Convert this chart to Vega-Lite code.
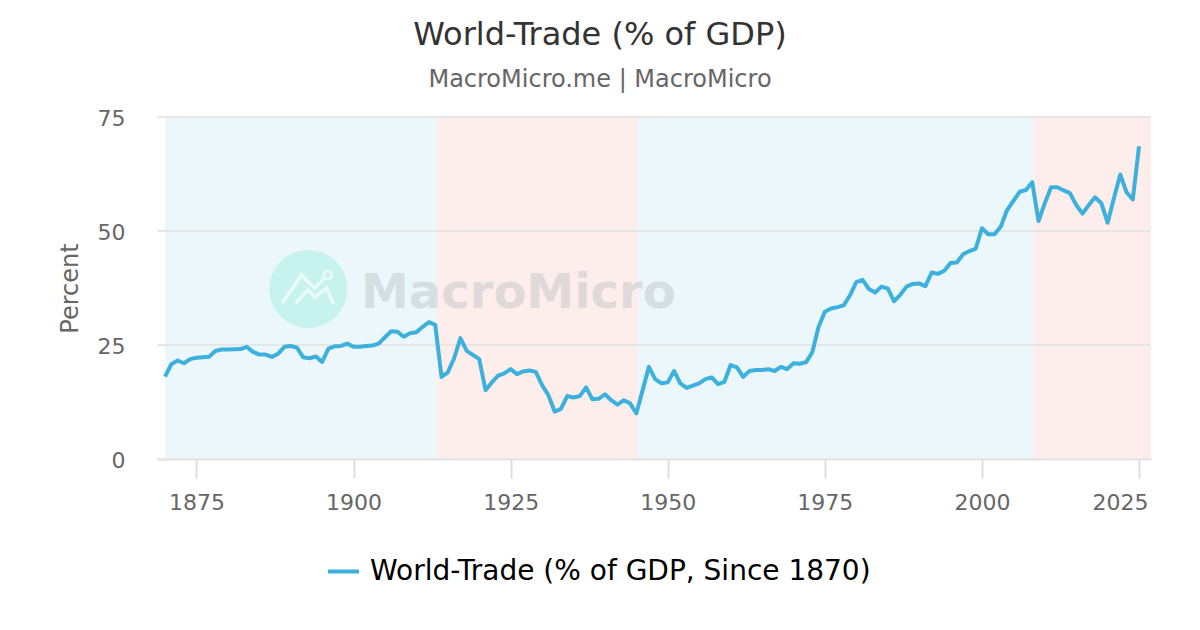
{
  "$schema": "https://vega.github.io/schema/vega-lite/v6.json",
  "description": "World trade as a share of GDP since 1870, with shaded eras.",
  "width": 994,
  "height": 342,
  "autosize": {"type": "none"},
  "padding": {"left": 157, "top": 117, "right": 49, "bottom": 171},
  "background": "#ffffff",
  "title": {
    "text": "World-Trade (% of GDP)",
    "subtitle": "MacroMicro.me | MacroMicro",
    "anchor": "middle",
    "dx": -54,
    "offset": 14,
    "font": "DejaVu Sans",
    "fontSize": 32,
    "fontWeight": "normal",
    "color": "#333333",
    "subtitleFont": "DejaVu Sans",
    "subtitleFontSize": 24,
    "subtitleColor": "#666666",
    "subtitlePadding": 16
  },
  "config": {
    "view": {"stroke": null},
    "font": "DejaVu Sans"
  },
  "datasets": {
    "eras": [
      {"start": 1870, "end": 1913.2, "era": "expansion"},
      {"start": 1913.2, "end": 1945.3, "era": "contraction"},
      {"start": 1945.3, "end": 2008.2, "era": "expansion"},
      {"start": 2008.2, "end": 2026.9, "era": "contraction"}
    ],
    "grid": [{"level": 0}, {"level": 25}, {"level": 50}, {"level": 75}],
    "logo_disc": [{"year": 1892.8, "value": 37.3}],
    "logo_ring": [{"year": 1895.9, "value": 40.35}],
    "logo_lines": [
      {"path": "a", "year": 1888.7, "value": 34.2},
      {"path": "a", "year": 1891.7, "value": 40.35},
      {"path": "a", "year": 1893.8, "value": 37.5},
      {"path": "a", "year": 1895.4, "value": 39.7},
      {"path": "b", "year": 1890.8, "value": 34.2},
      {"path": "b", "year": 1892.7, "value": 37.06},
      {"path": "b", "year": 1893.8, "value": 35.5},
      {"path": "b", "year": 1895.7, "value": 37.5},
      {"path": "b", "year": 1896.8, "value": 34.0}
    ],
    "wordmark": [{"year": 1901.2, "value": 33.1, "label": "MacroMicro"}],
    "trade": [
      {"year": 1870, "value": 18.05}, {"year": 1871, "value": 20.8}, {"year": 1872, "value": 21.6},
      {"year": 1873, "value": 21.0}, {"year": 1874, "value": 21.9}, {"year": 1875, "value": 22.2},
      {"year": 1876, "value": 22.3}, {"year": 1877, "value": 22.4}, {"year": 1878, "value": 23.7},
      {"year": 1879, "value": 24.0}, {"year": 1880, "value": 24.0}, {"year": 1881, "value": 24.05},
      {"year": 1882, "value": 24.1}, {"year": 1883, "value": 24.6}, {"year": 1884, "value": 23.5},
      {"year": 1885, "value": 22.9}, {"year": 1886, "value": 22.9}, {"year": 1887, "value": 22.4},
      {"year": 1888, "value": 23.1}, {"year": 1889, "value": 24.6}, {"year": 1890, "value": 24.8},
      {"year": 1891, "value": 24.4}, {"year": 1892, "value": 22.3}, {"year": 1893, "value": 22.1},
      {"year": 1894, "value": 22.5}, {"year": 1895, "value": 21.3}, {"year": 1896, "value": 24.2},
      {"year": 1897, "value": 24.7}, {"year": 1898, "value": 24.8}, {"year": 1899, "value": 25.3},
      {"year": 1900, "value": 24.6}, {"year": 1901, "value": 24.6}, {"year": 1902, "value": 24.8},
      {"year": 1903, "value": 24.9}, {"year": 1904, "value": 25.3}, {"year": 1905, "value": 26.7},
      {"year": 1906, "value": 28.0}, {"year": 1907, "value": 27.9}, {"year": 1908, "value": 26.8},
      {"year": 1909, "value": 27.6}, {"year": 1910, "value": 27.8}, {"year": 1911, "value": 29.0},
      {"year": 1912, "value": 30.0}, {"year": 1913, "value": 29.4}, {"year": 1914, "value": 18.0},
      {"year": 1915, "value": 19.0}, {"year": 1916, "value": 22.1}, {"year": 1917, "value": 26.5},
      {"year": 1918, "value": 23.7}, {"year": 1919, "value": 22.8}, {"year": 1920, "value": 21.9},
      {"year": 1921, "value": 15.1}, {"year": 1922, "value": 16.8}, {"year": 1923, "value": 18.3},
      {"year": 1924, "value": 18.8}, {"year": 1925, "value": 19.7}, {"year": 1926, "value": 18.6},
      {"year": 1927, "value": 19.2}, {"year": 1928, "value": 19.4}, {"year": 1929, "value": 19.1},
      {"year": 1930, "value": 16.2}, {"year": 1931, "value": 14.0}, {"year": 1932, "value": 10.4},
      {"year": 1933, "value": 11.0}, {"year": 1934, "value": 13.8}, {"year": 1935, "value": 13.5},
      {"year": 1936, "value": 13.8}, {"year": 1937, "value": 15.7}, {"year": 1938, "value": 13.1},
      {"year": 1939, "value": 13.2}, {"year": 1940, "value": 14.2}, {"year": 1941, "value": 12.9},
      {"year": 1942, "value": 11.9}, {"year": 1943, "value": 12.9}, {"year": 1944, "value": 12.2},
      {"year": 1945, "value": 10.0}, {"year": 1946, "value": 15.1}, {"year": 1947, "value": 20.2},
      {"year": 1948, "value": 17.5}, {"year": 1949, "value": 16.6}, {"year": 1950, "value": 16.8},
      {"year": 1951, "value": 19.3}, {"year": 1952, "value": 16.6}, {"year": 1953, "value": 15.6},
      {"year": 1954, "value": 16.1}, {"year": 1955, "value": 16.6}, {"year": 1956, "value": 17.5},
      {"year": 1957, "value": 17.9}, {"year": 1958, "value": 16.4}, {"year": 1959, "value": 16.9},
      {"year": 1960, "value": 20.6}, {"year": 1961, "value": 20.1}, {"year": 1962, "value": 18.0},
      {"year": 1963, "value": 19.3}, {"year": 1964, "value": 19.5}, {"year": 1965, "value": 19.5},
      {"year": 1966, "value": 19.7}, {"year": 1967, "value": 19.3}, {"year": 1968, "value": 20.2},
      {"year": 1969, "value": 19.7}, {"year": 1970, "value": 21.0}, {"year": 1971, "value": 20.9},
      {"year": 1972, "value": 21.2}, {"year": 1973, "value": 23.4}, {"year": 1974, "value": 29.0},
      {"year": 1975, "value": 32.3}, {"year": 1976, "value": 33.0}, {"year": 1977, "value": 33.3},
      {"year": 1978, "value": 33.7}, {"year": 1979, "value": 35.9}, {"year": 1980, "value": 38.8},
      {"year": 1981, "value": 39.3}, {"year": 1982, "value": 37.3}, {"year": 1983, "value": 36.5},
      {"year": 1984, "value": 37.8}, {"year": 1985, "value": 37.4}, {"year": 1986, "value": 34.6},
      {"year": 1987, "value": 36.0}, {"year": 1988, "value": 37.8}, {"year": 1989, "value": 38.4},
      {"year": 1990, "value": 38.5}, {"year": 1991, "value": 37.9}, {"year": 1992, "value": 40.9},
      {"year": 1993, "value": 40.6}, {"year": 1994, "value": 41.3}, {"year": 1995, "value": 43.0},
      {"year": 1996, "value": 43.1}, {"year": 1997, "value": 44.9}, {"year": 1998, "value": 45.6},
      {"year": 1999, "value": 46.1}, {"year": 2000, "value": 50.6}, {"year": 2001, "value": 49.3},
      {"year": 2002, "value": 49.3}, {"year": 2003, "value": 51.0}, {"year": 2004, "value": 54.6},
      {"year": 2005, "value": 56.6}, {"year": 2006, "value": 58.6}, {"year": 2007, "value": 59.0},
      {"year": 2008, "value": 60.7}, {"year": 2009, "value": 52.2}, {"year": 2010, "value": 56.1},
      {"year": 2011, "value": 59.6}, {"year": 2012, "value": 59.6}, {"year": 2013, "value": 58.9},
      {"year": 2014, "value": 58.3}, {"year": 2015, "value": 55.7}, {"year": 2016, "value": 53.8},
      {"year": 2017, "value": 55.7}, {"year": 2018, "value": 57.4}, {"year": 2019, "value": 56.1},
      {"year": 2020, "value": 51.8}, {"year": 2021, "value": 57.2}, {"year": 2022, "value": 62.4},
      {"year": 2023, "value": 58.5}, {"year": 2024, "value": 56.9}, {"year": 2025, "value": 68.6}
    ]
  },
  "layer": [
    {
      "data": {"name": "eras"},
      "mark": {"type": "rect"},
      "encoding": {
        "x": {"field": "start", "type": "quantitative", "title": null},
        "x2": {"field": "end"},
        "fill": {
          "field": "era",
          "type": "nominal",
          "scale": {"domain": ["expansion", "contraction"], "range": ["#ebf7fb", "#fdeeec"]},
          "legend": null
        }
      }
    },
    {
      "data": {"name": "logo_disc"},
      "mark": {"type": "point", "shape": "circle", "filled": true, "size": 6084, "color": "#c6f3ee", "opacity": 1},
      "encoding": {
        "x": {"field": "year", "type": "quantitative"},
        "y": {"field": "value", "type": "quantitative"}
      }
    },
    {
      "data": {"name": "logo_lines"},
      "mark": {"type": "line", "color": "#ebfafa", "strokeWidth": 3.5},
      "encoding": {
        "x": {"field": "year", "type": "quantitative"},
        "y": {"field": "value", "type": "quantitative"},
        "detail": {"field": "path"}
      }
    },
    {
      "data": {"name": "logo_ring"},
      "mark": {"type": "point", "shape": "circle", "filled": false, "size": 64, "color": "#ebfafa", "strokeWidth": 2.5, "opacity": 1},
      "encoding": {
        "x": {"field": "year", "type": "quantitative"},
        "y": {"field": "value", "type": "quantitative"}
      }
    },
    {
      "data": {"name": "wordmark"},
      "mark": {"type": "text", "font": "DejaVu Sans", "fontWeight": "bold", "fontSize": 48, "align": "left", "baseline": "alphabetic", "color": "#b8c0c0", "opacity": 0.42},
      "encoding": {
        "x": {"field": "year", "type": "quantitative"},
        "y": {"field": "value", "type": "quantitative"},
        "text": {"field": "label"}
      }
    },
    {
      "data": {"name": "grid"},
      "mark": {"type": "rule", "color": "#e6e6e6", "strokeWidth": 2},
      "encoding": {
        "y": {"field": "level", "type": "quantitative"}
      }
    },
    {
      "data": {"name": "trade"},
      "mark": {"type": "line", "strokeWidth": 4, "strokeJoin": "round"},
      "encoding": {
        "x": {
          "field": "year",
          "type": "quantitative",
          "title": null,
          "scale": {"domain": [1868.72, 2026.9], "nice": false, "zero": false},
          "axis": {
            "values": [1875, 1900, 1925, 1950, 1975, 2000, 2025],
            "format": "d",
            "grid": false,
            "domainColor": "#dddddd",
            "domainWidth": 2,
            "tickColor": "#dddddd",
            "tickWidth": 2,
            "tickSize": 19,
            "labelFontSize": 22,
            "labelColor": "#666666",
            "labelPadding": 14,
            "labelFlush": 15,
            "labelFlushOffset": 9,
            "labelOverlap": false
          }
        },
        "y": {
          "field": "value",
          "type": "quantitative",
          "title": "Percent",
          "scale": {"domain": [0, 75], "nice": false},
          "axis": {
            "values": [0, 25, 50, 75],
            "grid": false,
            "domain": false,
            "ticks": false,
            "labelFontSize": 22,
            "labelColor": "#666666",
            "labelPadding": 32,
            "labelOffset": 1,
            "titleFontSize": 24,
            "titleFontWeight": "normal",
            "titleColor": "#666666",
            "titlePadding": 15
          }
        },
        "stroke": {
          "datum": "World-Trade (% of GDP, Since 1870)",
          "scale": {"range": ["#3db1dd"]},
          "legend": {
            "title": null,
            "orient": "none",
            "legendX": 169,
            "legendY": 437,
            "symbolType": "stroke",
            "symbolSize": 961,
            "symbolStrokeWidth": 4,
            "labelFontSize": 28,
            "labelColor": "#000000",
            "labelOffset": 9,
            "labelLimit": 600
          }
        }
      }
    }
  ]
}
